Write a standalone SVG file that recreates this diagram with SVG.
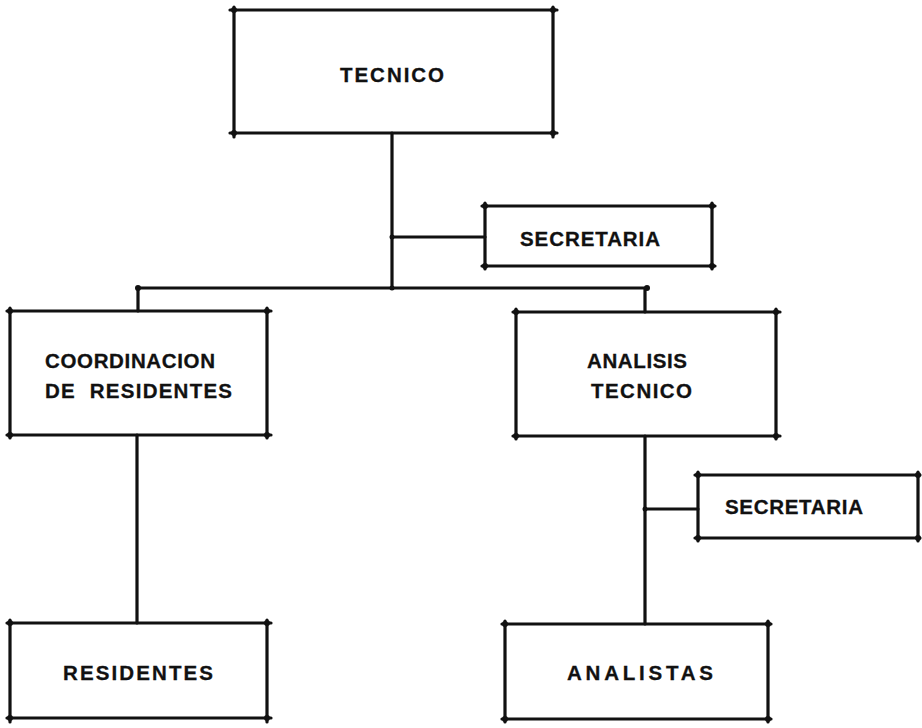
<svg xmlns="http://www.w3.org/2000/svg" width="922" height="728" viewBox="0 0 922 728">
<style>
.b{fill:none;stroke:#111;stroke-width:3.2;stroke-linecap:round}
.c{fill:none;stroke:#111;stroke-width:3.2;stroke-linecap:round}
.d{fill:#111}
.t{font-family:"Liberation Sans",Arial,sans-serif;font-weight:bold;font-size:20.5px;fill:#111;stroke:#111;stroke-width:0.3}
</style>
<rect width="922" height="728" fill="#fff"/>
<g id="connectors">
<path class="c" d="M392,133 V288 M138,288 H647 M138,288 V311 M645,288 V312 M392,237 H485 M137,435 V623 M645,436 V624 M645,509 H698"/>
<circle class="d" cx="138" cy="288" r="3"/><circle class="d" cx="647" cy="288" r="3"/><circle class="d" cx="392" cy="288" r="2.5"/>
<circle class="d" cx="392" cy="237" r="2.5"/><circle class="d" cx="645" cy="509" r="2.5"/>
</g>
<g id="tecnico">
<path class="b" d="M230,10 H557 M230,133 H557 M234,7 V137 M553,7 V137"/>
<circle class="d" cx="234" cy="10" r="3"/><circle class="d" cx="553" cy="10" r="3"/><circle class="d" cx="234" cy="133" r="3"/><circle class="d" cx="553" cy="133" r="3"/>
<text class="t" x="340" y="82" textLength="104" lengthAdjust="spacing">TECNICO</text>
</g>
<g id="secretaria1">
<path class="b" d="M482,206 H715 M482,266 H715 M485,203 V269 M712,203 V269"/>
<circle class="d" cx="485" cy="206" r="3"/><circle class="d" cx="712" cy="206" r="3"/><circle class="d" cx="485" cy="266" r="3"/><circle class="d" cx="712" cy="266" r="3"/>
<text class="t" x="520" y="246" textLength="140" lengthAdjust="spacing">SECRETARIA</text>
</g>
<g id="coordinacion">
<path class="b" d="M7,311 H271 M7,435 H271 M10,308 V438 M267,308 V438"/>
<circle class="d" cx="10" cy="311" r="3"/><circle class="d" cx="267" cy="311" r="3"/><circle class="d" cx="10" cy="435" r="3"/><circle class="d" cx="267" cy="435" r="3"/>
<text class="t" x="45" y="368" textLength="170" lengthAdjust="spacing">COORDINACION</text>
<text class="t" x="45" y="398" textLength="187" lengthAdjust="spacing" xml:space="preserve">DE  RESIDENTES</text>
</g>
<g id="analisis">
<path class="b" d="M513,312 H780 M513,436 H780 M516,309 V439 M776,309 V439"/>
<circle class="d" cx="516" cy="312" r="3"/><circle class="d" cx="776" cy="312" r="3"/><circle class="d" cx="516" cy="436" r="3"/><circle class="d" cx="776" cy="436" r="3"/>
<text class="t" x="587" y="368" textLength="100" lengthAdjust="spacing">ANALISIS</text>
<text class="t" x="591" y="398" textLength="101" lengthAdjust="spacing">TECNICO</text>
</g>
<g id="secretaria2">
<path class="b" d="M695,475 H920 M695,538 H920 M698,472 V541 M918,472 V541"/>
<circle class="d" cx="698" cy="475" r="3"/><circle class="d" cx="918" cy="475" r="3"/><circle class="d" cx="698" cy="538" r="3"/><circle class="d" cx="918" cy="538" r="3"/>
<text class="t" x="725" y="514" textLength="138" lengthAdjust="spacing">SECRETARIA</text>
</g>
<g id="residentes">
<path class="b" d="M7,623 H271 M7,718 H271 M10,620 V722 M267,620 V722"/>
<circle class="d" cx="10" cy="623" r="3"/><circle class="d" cx="267" cy="623" r="3"/><circle class="d" cx="10" cy="718" r="3"/><circle class="d" cx="267" cy="718" r="3"/>
<text class="t" x="63" y="680" textLength="150" lengthAdjust="spacing">RESIDENTES</text>
</g>
<g id="analistas">
<path class="b" d="M502,624 H771 M502,719 H771 M505,621 V722 M768,621 V722"/>
<circle class="d" cx="505" cy="624" r="3"/><circle class="d" cx="768" cy="624" r="3"/><circle class="d" cx="505" cy="719" r="3"/><circle class="d" cx="768" cy="719" r="3"/>
<text class="t" x="567" y="680" textLength="146" lengthAdjust="spacing">ANALISTAS</text>
</g>
</svg>
